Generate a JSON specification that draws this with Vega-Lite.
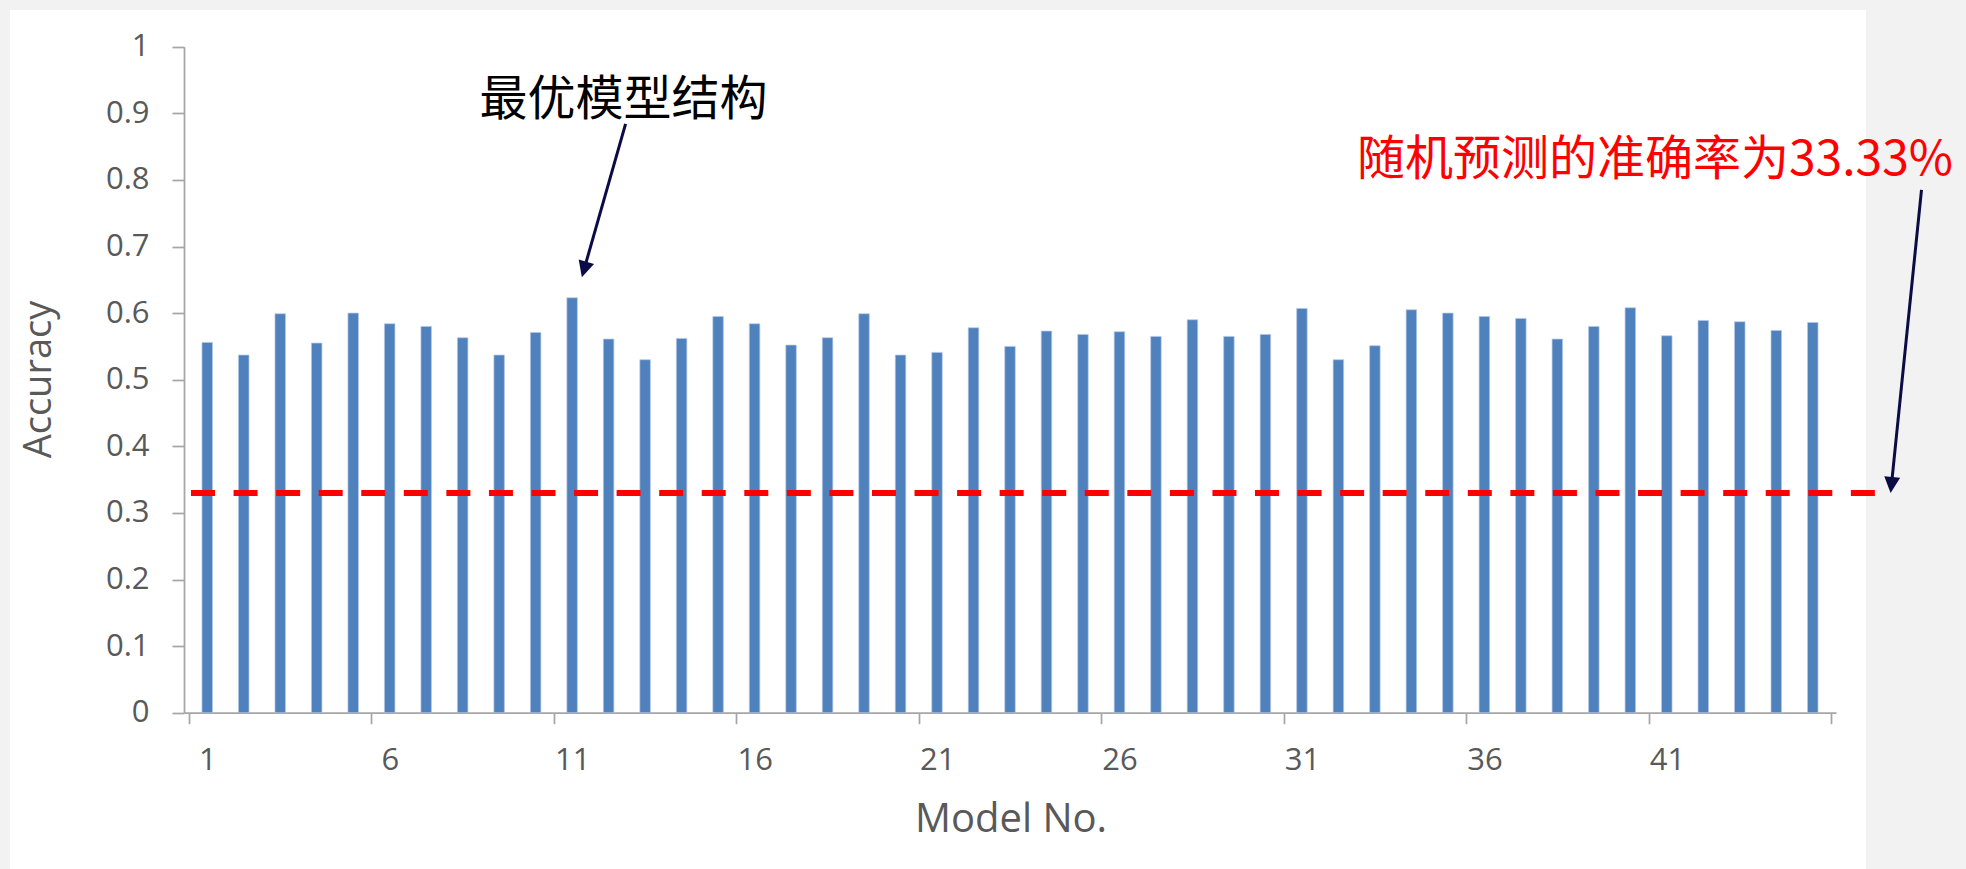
{
  "$schema": "https://vega.github.io/schema/vega-lite/v6.json",
  "width": 1856,
  "height": 859,
  "autosize": {"type": "none"},
  "padding": {"left": 10, "top": 10, "right": 100, "bottom": 0},
  "background": "#f2f2f2",
  "config": {
    "view": {"fill": "white", "stroke": null},
    "font": "Open Sans",
    "axis": {"labelFont": "Open Sans", "titleFont": "Open Sans"}
  },
  "data": {
    "values": [
      {"x": 1, "y": 0.556}, {"x": 2, "y": 0.537}, {"x": 3, "y": 0.599}, {"x": 4, "y": 0.555}, {"x": 5, "y": 0.600},
      {"x": 6, "y": 0.584}, {"x": 7, "y": 0.580}, {"x": 8, "y": 0.563}, {"x": 9, "y": 0.537}, {"x": 10, "y": 0.571},
      {"x": 11, "y": 0.623}, {"x": 12, "y": 0.561}, {"x": 13, "y": 0.530}, {"x": 14, "y": 0.562}, {"x": 15, "y": 0.595},
      {"x": 16, "y": 0.584}, {"x": 17, "y": 0.552}, {"x": 18, "y": 0.563}, {"x": 19, "y": 0.599}, {"x": 20, "y": 0.537},
      {"x": 21, "y": 0.541}, {"x": 22, "y": 0.578}, {"x": 23, "y": 0.550}, {"x": 24, "y": 0.573}, {"x": 25, "y": 0.568},
      {"x": 26, "y": 0.572}, {"x": 27, "y": 0.565}, {"x": 28, "y": 0.590}, {"x": 29, "y": 0.565}, {"x": 30, "y": 0.568},
      {"x": 31, "y": 0.607}, {"x": 32, "y": 0.530}, {"x": 33, "y": 0.551}, {"x": 34, "y": 0.605}, {"x": 35, "y": 0.600},
      {"x": 36, "y": 0.595}, {"x": 37, "y": 0.592}, {"x": 38, "y": 0.561}, {"x": 39, "y": 0.580}, {"x": 40, "y": 0.608},
      {"x": 41, "y": 0.566}, {"x": 42, "y": 0.589}, {"x": 43, "y": 0.587}, {"x": 44, "y": 0.574}, {"x": 45, "y": 0.586}
    ]
  },
  "encoding": {
    "x": {
      "field": "x",
      "type": "quantitative",
      "scale": {"domain": [0.5, 45.5], "range": [174, 1826], "nice": false, "zero": false},
      "axis": {
        "title": "Model No.",
        "values": [0.5, 5.5, 10.5, 15.5, 20.5, 25.5, 30.5, 35.5, 40.5, 45.5],
        "labelExpr": "datum.value < 45 ? format(datum.value + 0.5, 'd') : ''",
        "labelOffset": 18.36,
        "labelFlush": false,
        "labelOverlap": false,
        "offset": -156.3,
        "grid": false,
        "domainColor": "#a6a6a6",
        "domainWidth": 1.75,
        "tickColor": "#a6a6a6",
        "tickWidth": 1.75,
        "tickSize": 11,
        "labelFontSize": 31,
        "labelColor": "#595959",
        "labelPadding": 22,
        "labelBaseline": "top",
        "titleFontSize": 40,
        "titleFontWeight": "normal",
        "titleColor": "#595959",
        "titleX": 1000.5,
        "titleY": 119,
        "titleBaseline": "alphabetic",
        "titleAlign": "center"
      }
    },
    "y": {
      "field": "y",
      "type": "quantitative",
      "scale": {"domain": [0, 1], "range": [702.7, 36.7], "nice": false},
      "axis": {
        "title": "Accuracy",
        "values": [0, 0.1, 0.2, 0.3, 0.4, 0.5, 0.6, 0.7, 0.8, 0.9, 1],
        "format": "~g",
        "offset": -174,
        "grid": false,
        "domainColor": "#a6a6a6",
        "domainWidth": 1.75,
        "tickColor": "#a6a6a6",
        "tickWidth": 1.75,
        "tickSize": 12,
        "labelFontSize": 31,
        "labelColor": "#595959",
        "labelPadding": 23,
        "titleFontSize": 38,
        "titleFontWeight": "normal",
        "titleColor": "#595959",
        "titleX": -134,
        "titleY": 369,
        "titleAngle": -90,
        "titleBaseline": "alphabetic",
        "titleAlign": "center"
      }
    }
  },
  "layer": [
    {
      "mark": {"type": "bar", "width": 10.5, "color": "#4f81bd", "stroke": "#b4c7e7", "strokeWidth": 0.7}
    },
    {
      "data": {"values": [{"x": 0.555, "x2": 47.13, "y": 0.33}]},
      "mark": {"type": "rule", "color": "#ff0000", "strokeWidth": 6, "strokeDash": [24, 18.56]},
      "encoding": {"x2": {"field": "x2"}}
    },
    {
      "data": {"values": [
        {"x": 12.465, "y": 0.884, "x2": 11.329, "y2": 0.666},
        {"x": 47.98, "y": 0.785, "x2": 47.157, "y2": 0.342}
      ]},
      "mark": {"type": "rule", "color": "#0b0b45", "strokeWidth": 3},
      "encoding": {"x2": {"field": "x2"}, "y2": {"field": "y2"}}
    },
    {
      "data": {"values": [
        {"x": 11.266, "y": 0.654, "a": 196.4},
        {"x": 47.134, "y": 0.330, "a": 185.7}
      ]},
      "mark": {"type": "point", "filled": true, "shape": "M0,0L-0.8,1.6L0.8,1.6Z", "size": 400, "color": "#0b0b45", "opacity": 1, "strokeWidth": 0},
      "encoding": {"angle": {"field": "a", "type": "quantitative", "scale": null}}
    },
    {
      "data": {"values": [{"x": 12.41, "y": 0.9185, "t": "最优模型结构"}]},
      "mark": {"type": "text", "font": "Noto Sans CJK SC", "fontSize": 48, "color": "#000000", "align": "center", "baseline": "middle"},
      "encoding": {"text": {"field": "t"}}
    },
    {
      "data": {"values": [{"x": 40.675, "y": 0.829, "t": "随机预测的准确率为33.33%"}]},
      "mark": {"type": "text", "font": "Noto Sans CJK SC", "fontSize": 48, "color": "#ff0000", "align": "center", "baseline": "middle"},
      "encoding": {"text": {"field": "t"}}
    }
  ]
}
